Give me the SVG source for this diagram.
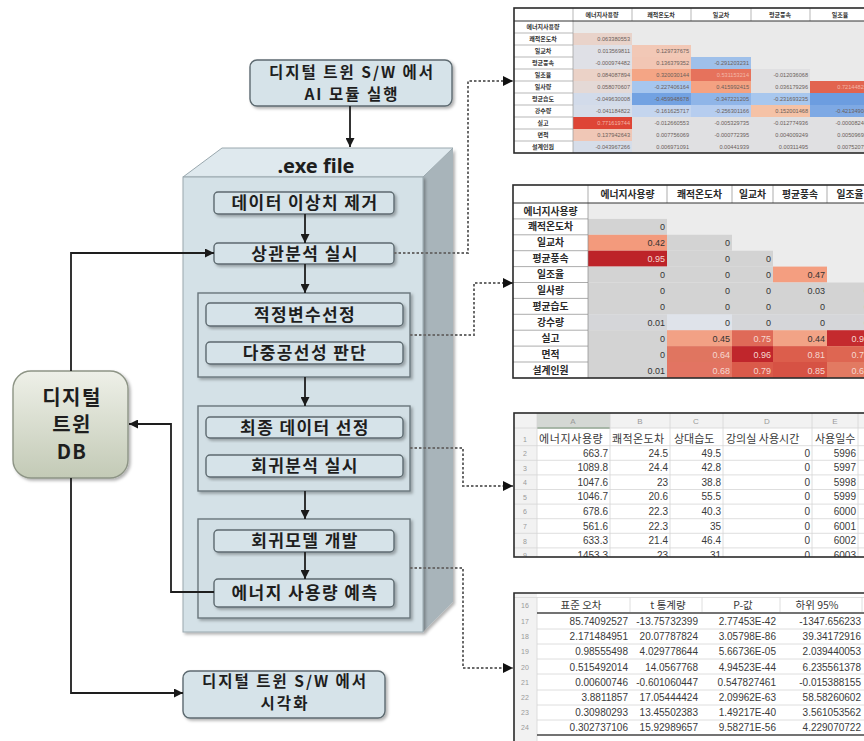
<svg xmlns="http://www.w3.org/2000/svg" width="864" height="741" viewBox="0 0 864 741">
  <defs>
    <style>
      .box { fill: #d6e3e9; stroke: #5d6a70; stroke-width: 1.4; }
      .grp { fill: #d2dfe5; stroke: #6a767c; stroke-width: 1.4; }
      .lbl { font-family: "Noto Sans CJK KR", "Noto Sans", sans-serif; font-weight: 700; font-size: 17px; letter-spacing: 1.4px; fill: #1e1e1e; text-anchor: middle; }
      .lbl2 { font-size: 15.5px; letter-spacing: 2px; }
      .flow { fill: none; stroke: #1e1e1e; stroke-width: 1.8; }
      .dot { fill: none; stroke: #6a6a6a; stroke-width: 2; stroke-dasharray: 2.5 2; }
      .tb { font-family: "Liberation Sans", "Noto Sans CJK KR", sans-serif; fill: #3a3a3a; }
      .t1v { font-size: 5.6px; text-anchor: end; fill: #6b5e5a; }
      .t1h { font-size: 6px; font-weight: 700; text-anchor: middle; fill: #333; }
      .t2h { font-family: "Noto Sans CJK KR", sans-serif; font-size: 9.8px; font-weight: 700; text-anchor: middle; fill: #2a2a2a; }
      .t2v { font-size: 9px; text-anchor: end; fill: #333; }
      .t2w { font-size: 9px; text-anchor: end; fill: #f6d8d0; }
      .t3r { font-size: 10px; text-anchor: end; fill: #3a3a3a; }
      .rn { font-size: 7px; fill: #9a9a9a; text-anchor: middle; }
      .grid { stroke: #d6d6d6; stroke-width: 0.8; }
    </style>
    <marker id="ah" viewBox="0 0 10 10" refX="10" refY="5" markerWidth="9" markerHeight="9" markerUnits="userSpaceOnUse" orient="auto">
      <path d="M0,0 L10,5 L0,10 z" fill="#1a1a1a"/>
    </marker>
    <marker id="ahd" viewBox="0 0 10 10" refX="10" refY="5" markerWidth="10" markerHeight="10" markerUnits="userSpaceOnUse" orient="auto">
      <path d="M0,0 L10,5 L0,10 z" fill="#111"/>
    </marker>
    <linearGradient id="dbFill" x1="0" y1="0" x2="0" y2="1">
      <stop offset="0" stop-color="#eef0e8"/>
      <stop offset="1" stop-color="#c3cab6"/>
    </linearGradient>
    <filter id="sh" x="-10%" y="-10%" width="130%" height="130%">
      <feDropShadow dx="2" dy="2" stdDeviation="1.4" flood-color="#000" flood-opacity="0.3"/>
    </filter>
    <clipPath id="clip3"><rect x="514" y="413" width="360" height="144"/></clipPath>
    <clipPath id="clip4"><rect x="514" y="593" width="360" height="148"/></clipPath>
  </defs>

  <rect width="864" height="741" fill="#ffffff"/>

  <!-- executable package drawn as a 3D block -->
  <g id="exe-block">
    <polygon points="423,177 453,148 453,602 423,632" fill="#a8b4ba" filter="url(#sh)"/>
    <polygon points="183,177 222,148 453,148 423,177" fill="#dfe9ee" stroke="#9aa8ae" stroke-width="1"/>
    <rect x="183" y="177" width="240" height="455" fill="#d4e1e7" stroke="#9aa8ae" stroke-width="1" filter="url(#sh)"/>
    <text x="316" y="173" style="font-family: 'Noto Sans', sans-serif; font-weight: 700; font-size: 20px; fill: #1e1e1e; text-anchor: middle;">.exe file</text>
  </g>

  <g id="node-run-ai">
    <rect class="box" x="250" y="60" width="202" height="46" rx="7" filter="url(#sh)"/>
    <text class="lbl lbl2" x="352" y="77.5">디지털 트윈 S/W 에서</text>
    <text class="lbl lbl2" x="352" y="100">AI 모듈 실행</text>
  </g>

  <g id="node-outlier">
    <rect class="box" x="214" y="192" width="180" height="22" rx="4" filter="url(#sh)"/>
    <text class="lbl" x="305" y="209">데이터 이상치 제거</text>
  </g>
  <g id="node-corr">
    <rect class="box" x="214" y="243" width="180" height="21" rx="4" filter="url(#sh)"/>
    <text class="lbl" x="305" y="259.5">상관분석 실시</text>
  </g>

  <g id="group-variables">
    <rect class="grp" x="198" y="293" width="212" height="84" filter="url(#sh)"/>
    <g id="node-select-var">
      <rect class="box" x="206" y="303" width="197" height="23" rx="4" filter="url(#sh)"/>
      <text class="lbl" x="305" y="320.5">적정변수선정</text>
    </g>
    <g id="node-multicol">
      <rect class="box" x="206" y="342" width="197" height="22" rx="4" filter="url(#sh)"/>
      <text class="lbl" x="305" y="359">다중공선성 판단</text>
    </g>
  </g>

  <g id="group-regression">
    <rect class="grp" x="198" y="406" width="212" height="85" filter="url(#sh)"/>
    <g id="node-final-data">
      <rect class="box" x="206" y="417" width="197" height="21" rx="4" filter="url(#sh)"/>
      <text class="lbl" x="305" y="433.5">최종 데이터 선정</text>
    </g>
    <g id="node-regress">
      <rect class="box" x="206" y="455" width="197" height="22" rx="4" filter="url(#sh)"/>
      <text class="lbl" x="305" y="472">회귀분석 실시</text>
    </g>
  </g>

  <g id="group-model">
    <rect class="grp" x="198" y="519" width="212" height="99" filter="url(#sh)"/>
    <g id="node-model">
      <rect class="box" x="214" y="530" width="180" height="22" rx="4" filter="url(#sh)"/>
      <text class="lbl" x="305" y="547">회귀모델 개발</text>
    </g>
    <g id="node-predict">
      <rect class="box" x="214" y="579" width="180" height="28" rx="4" filter="url(#sh)"/>
      <text class="lbl" x="305" y="598.5">에너지 사용량 예측</text>
    </g>
  </g>

  <g id="node-db">
    <rect x="13" y="371" width="115" height="107" rx="18" fill="url(#dbFill)" stroke="#8d9485" stroke-width="1.4" filter="url(#sh)"/>
    <text class="lbl" x="72" y="405" style="font-size: 20px;">디지털</text>
    <text class="lbl" x="72" y="432" style="font-size: 20px;">트윈</text>
    <text class="lbl" x="72" y="459" style="font-size: 20px;">DB</text>
  </g>

  <g id="node-visualize">
    <rect class="box" x="183" y="671" width="202" height="47" rx="7" filter="url(#sh)"/>
    <text class="lbl lbl2" x="285" y="686.5">디지털 트윈 S/W 에서</text>
    <text class="lbl lbl2" x="285" y="709">시각화</text>
  </g>

  <!-- connectors -->
  <g id="connectors">
    <line class="flow" x1="350" y1="106" x2="350" y2="147" marker-end="url(#ah)"/>
    <line class="flow" x1="305" y1="214" x2="305" y2="243" marker-end="url(#ah)"/>
    <line class="flow" x1="305" y1="264" x2="305" y2="293" marker-end="url(#ah)"/>
    <line class="flow" x1="305" y1="377" x2="305" y2="406" marker-end="url(#ah)"/>
    <line class="flow" x1="305" y1="491" x2="305" y2="519" marker-end="url(#ah)"/>
    <line class="flow" x1="305" y1="552" x2="305" y2="579" marker-end="url(#ah)"/>
    <path class="flow" d="M71,371 V253 H214" marker-end="url(#ah)"/>
    <path class="flow" d="M214,592 H171 V424 H129" marker-end="url(#ah)"/>
    <path class="flow" d="M71,478 V693 H183" marker-end="url(#ah)"/>

    <path class="dot" d="M394,253 H468 V81 H513" marker-end="url(#ahd)"/>
    <path class="dot" d="M410,335 H474 V283 H513" marker-end="url(#ahd)"/>
    <path class="dot" d="M410,448 H463 V486 H513" marker-end="url(#ahd)"/>
    <path class="dot" d="M410,568 H463 V668 H513" marker-end="url(#ahd)"/>
  </g>

  <!-- correlation coefficient table -->
  <g id="table-correlation" class="tb">
    <rect x="514" y="8" width="360" height="145" fill="#ffffff"/>
    <rect x="573" y="21" width="301" height="132" fill="#eaeaea"/>
    <!-- coloured cells -->
    <g>
      <rect x="573" y="33" width="59" height="12" fill="#e9d3ca"/>
      <rect x="573" y="45" width="59" height="12" fill="#dfe0e6"/>
      <rect x="632" y="45" width="59" height="12" fill="#f2c8b6"/>
      <rect x="573" y="57" width="59" height="12" fill="#dfe0e6"/>
      <rect x="632" y="57" width="59" height="12" fill="#f2c6b4"/>
      <rect x="691" y="57" width="60" height="12" fill="#9fc0ea"/>
      <rect x="573" y="69" width="59" height="12" fill="#ebd2c7"/>
      <rect x="632" y="69" width="59" height="12" fill="#f4a585"/>
      <rect x="691" y="69" width="60" height="12" fill="#e6725c"/>
      <rect x="751" y="69" width="59" height="12" fill="#e0e0e2"/>
      <rect x="573" y="81" width="59" height="12" fill="#e4d9d6"/>
      <rect x="632" y="81" width="59" height="12" fill="#a6c6ee"/>
      <rect x="691" y="81" width="60" height="12" fill="#f4a282"/>
      <rect x="751" y="81" width="59" height="12" fill="#e0e0e2"/>
      <rect x="810" y="81" width="64" height="12" fill="#e2644f"/>
      <rect x="573" y="93" width="59" height="12" fill="#d2dbea"/>
      <rect x="632" y="93" width="59" height="12" fill="#72a2e2"/>
      <rect x="691" y="93" width="60" height="12" fill="#8fb5e8"/>
      <rect x="751" y="93" width="59" height="12" fill="#a8c7ee"/>
      <rect x="810" y="93" width="64" height="12" fill="#6c9de0"/>
      <rect x="573" y="105" width="59" height="12" fill="#d6dde9"/>
      <rect x="632" y="105" width="59" height="12" fill="#c4d5ee"/>
      <rect x="691" y="105" width="60" height="12" fill="#b6cdef"/>
      <rect x="751" y="105" width="59" height="12" fill="#f5c2a6"/>
      <rect x="810" y="105" width="64" height="12" fill="#7ea9e4"/>
      <rect x="573" y="117" width="59" height="12" fill="#de4536"/>
      <rect x="632" y="117" width="242" height="12" fill="#e0e0e2"/>
      <rect x="573" y="129" width="59" height="12" fill="#f0c7b6"/>
      <rect x="632" y="129" width="242" height="12" fill="#e0e0e2"/>
      <rect x="573" y="141" width="59" height="12" fill="#d6dde9"/>
      <rect x="632" y="141" width="242" height="12" fill="#e0e0e2"/>
    </g>
    <!-- row separators in the label column, header separators -->
    <g stroke="#9a9a9a" stroke-width="0.7">
      <line x1="514" y1="33" x2="573" y2="33"/><line x1="514" y1="45" x2="573" y2="45"/>
      <line x1="514" y1="57" x2="573" y2="57"/><line x1="514" y1="69" x2="573" y2="69"/>
      <line x1="514" y1="81" x2="573" y2="81"/><line x1="514" y1="93" x2="573" y2="93"/>
      <line x1="514" y1="105" x2="573" y2="105"/><line x1="514" y1="117" x2="573" y2="117"/>
      <line x1="514" y1="129" x2="573" y2="129"/><line x1="514" y1="141" x2="573" y2="141"/>
      <line x1="573" y1="8" x2="573" y2="153"/>
      <line x1="632" y1="8" x2="632" y2="21"/><line x1="691" y1="8" x2="691" y2="21"/>
      <line x1="751" y1="8" x2="751" y2="21"/><line x1="810" y1="8" x2="810" y2="21"/>
    </g>
    <line x1="514" y1="21" x2="874" y2="21" stroke="#333" stroke-width="1"/>
    <rect x="514" y="8" width="360" height="145" fill="none" stroke="#2a2a2a" stroke-width="1.6"/>
    <text class="t1h" x="602" y="16.5">에너지사용량</text>
    <text class="t1h" x="661" y="16.5">쾌적온도차</text>
    <text class="t1h" x="721" y="16.5">일교차</text>
    <text class="t1h" x="780" y="16.5">평균풍속</text>
    <text class="t1h" x="840" y="16.5">일조율</text>
    <text class="t1h" x="543" y="29">에너지사용량</text>
    <text class="t1h" x="543" y="41">쾌적온도차</text>
    <text class="t1h" x="543" y="53">일교차</text>
    <text class="t1h" x="543" y="65">평균풍속</text>
    <text class="t1h" x="543" y="77">일조율</text>
    <text class="t1h" x="543" y="89">일사량</text>
    <text class="t1h" x="543" y="101">평균습도</text>
    <text class="t1h" x="543" y="113">강수량</text>
    <text class="t1h" x="543" y="125">실고</text>
    <text class="t1h" x="543" y="137">면적</text>
    <text class="t1h" x="543" y="149">설계인원</text>
    <g>
      <text class="t1v" x="630" y="41">0.063380553</text>
      <text class="t1v" x="630" y="53">0.013569811</text>
      <text class="t1v" x="689" y="53">0.129737675</text>
      <text class="t1v" x="630" y="65">-0.000974482</text>
      <text class="t1v" x="689" y="65">0.136379352</text>
      <text class="t1v" x="749" y="65">-0.291203231</text>
      <text class="t1v" x="630" y="77">0.084087894</text>
      <text class="t1v" x="689" y="77">0.320030144</text>
      <text class="t1v" x="749" y="77" style="fill:#f3b8a8">0.531153214</text>
      <text class="t1v" x="808" y="77">-0.012036068</text>
      <text class="t1v" x="630" y="89">0.058070607</text>
      <text class="t1v" x="689" y="89">-0.227406164</text>
      <text class="t1v" x="749" y="89">0.415992415</text>
      <text class="t1v" x="808" y="89">0.036179296</text>
      <text class="t1v" x="870" y="89" style="fill:#f3b8a8">0.721448217</text>
      <text class="t1v" x="630" y="101">-0.049630008</text>
      <text class="t1v" x="689" y="101">-0.459948678</text>
      <text class="t1v" x="749" y="101">-0.347221205</text>
      <text class="t1v" x="808" y="101">-0.231693235</text>
      <text class="t1v" x="630" y="113">-0.041184822</text>
      <text class="t1v" x="689" y="113">-0.161625717</text>
      <text class="t1v" x="749" y="113">-0.256301166</text>
      <text class="t1v" x="808" y="113">0.152001468</text>
      <text class="t1v" x="870" y="113">-0.421349084</text>
      <text class="t1v" x="630" y="125" style="fill:#f3b8a8">0.771619744</text>
      <text class="t1v" x="689" y="125">-0.012660553</text>
      <text class="t1v" x="749" y="125">-0.005329735</text>
      <text class="t1v" x="808" y="125">-0.012774936</text>
      <text class="t1v" x="870" y="125">-0.000082467</text>
      <text class="t1v" x="630" y="137">0.137942643</text>
      <text class="t1v" x="689" y="137">0.007756069</text>
      <text class="t1v" x="749" y="137">-0.000772395</text>
      <text class="t1v" x="808" y="137">0.004009249</text>
      <text class="t1v" x="870" y="137">0.005096958</text>
      <text class="t1v" x="630" y="149">-0.043967266</text>
      <text class="t1v" x="689" y="149">0.006971091</text>
      <text class="t1v" x="749" y="149">0.00441939</text>
      <text class="t1v" x="808" y="149">0.00311495</text>
      <text class="t1v" x="870" y="149">0.007520754</text>
    </g>
  </g>

  <!-- p-value heat table -->
  <g id="table-pvalue" class="tb">
    <rect x="513" y="185" width="360" height="193" fill="#ffffff"/>
    <rect x="588" y="203" width="285" height="175" fill="#ececec"/>
    <g>
      <rect x="588" y="218.9" width="79" height="15.9" fill="#d3d3d3"/>
      <rect x="588" y="234.8" width="79" height="15.9" fill="#f39a7c"/>
      <rect x="667" y="234.8" width="65" height="15.9" fill="#d3d3d3"/>
      <rect x="588" y="250.7" width="79" height="15.9" fill="#bd2329"/>
      <rect x="667" y="250.7" width="106" height="15.9" fill="#d3d3d3"/>
      <rect x="588" y="266.6" width="185" height="15.9" fill="#d3d3d3"/>
      <rect x="773" y="266.6" width="54" height="15.9" fill="#f49e80"/>
      <rect x="588" y="282.5" width="285" height="31.8" fill="#d3d3d3"/>
      <rect x="588" y="314.3" width="285" height="15.9" fill="#d5d6d9"/>
      <rect x="667" y="314.3" width="65" height="15.9" fill="#dfe3ea"/>
      <rect x="588" y="330.2" width="79" height="47.7" fill="#d3d3d3"/>
      <rect x="667" y="330.2" width="65" height="15.9" fill="#f2a185"/>
      <rect x="732" y="330.2" width="41" height="15.9" fill="#df6a58"/>
      <rect x="773" y="330.2" width="54" height="15.9" fill="#f2a386"/>
      <rect x="827" y="330.2" width="46" height="15.9" fill="#c42a2e"/>
      <rect x="667" y="346.1" width="65" height="15.9" fill="#e07560"/>
      <rect x="732" y="346.1" width="41" height="15.9" fill="#c0262c"/>
      <rect x="773" y="346.1" width="54" height="15.9" fill="#dc5e4c"/>
      <rect x="827" y="346.1" width="46" height="15.9" fill="#de6652"/>
      <rect x="667" y="362" width="65" height="15.9" fill="#e27462"/>
      <rect x="732" y="362" width="41" height="15.9" fill="#da5a4a"/>
      <rect x="773" y="362" width="54" height="15.9" fill="#d65244"/>
      <rect x="827" y="362" width="46" height="15.9" fill="#e27a62"/>
    </g>
    <g stroke="#8a8a8a" stroke-width="0.7">
      <line x1="513" y1="218.9" x2="588" y2="218.9"/><line x1="513" y1="234.8" x2="588" y2="234.8"/>
      <line x1="513" y1="250.7" x2="588" y2="250.7"/><line x1="513" y1="266.6" x2="588" y2="266.6"/>
      <line x1="513" y1="282.5" x2="588" y2="282.5"/><line x1="513" y1="298.4" x2="588" y2="298.4"/>
      <line x1="513" y1="314.3" x2="588" y2="314.3"/><line x1="513" y1="330.2" x2="588" y2="330.2"/>
      <line x1="513" y1="346.1" x2="588" y2="346.1"/><line x1="513" y1="362" x2="588" y2="362"/>
      <line x1="588" y1="185" x2="588" y2="378"/>
      <line x1="667" y1="185" x2="667" y2="203"/><line x1="732" y1="185" x2="732" y2="203"/>
      <line x1="773" y1="185" x2="773" y2="203"/><line x1="827" y1="185" x2="827" y2="203"/>
    </g>
    <line x1="513" y1="203" x2="873" y2="203" stroke="#333" stroke-width="1"/>
    <rect x="513" y="185" width="360" height="193" fill="none" stroke="#2a2a2a" stroke-width="1.6"/>
    <text class="t2h" x="627.5" y="198">에너지사용량</text>
    <text class="t2h" x="699.5" y="198">쾌적온도차</text>
    <text class="t2h" x="752.5" y="198">일교차</text>
    <text class="t2h" x="800" y="198">평균풍속</text>
    <text class="t2h" x="850" y="198">일조율</text>
    <text class="t2h" x="550.5" y="214.5">에너지사용량</text>
    <text class="t2h" x="550.5" y="230.4">쾌적온도차</text>
    <text class="t2h" x="550.5" y="246.3">일교차</text>
    <text class="t2h" x="550.5" y="262.2">평균풍속</text>
    <text class="t2h" x="550.5" y="278.1">일조율</text>
    <text class="t2h" x="550.5" y="294">일사량</text>
    <text class="t2h" x="550.5" y="309.9">평균습도</text>
    <text class="t2h" x="550.5" y="325.8">강수량</text>
    <text class="t2h" x="550.5" y="341.7">실고</text>
    <text class="t2h" x="550.5" y="357.6">면적</text>
    <text class="t2h" x="550.5" y="373.5">설계인원</text>
    <g>
      <text class="t2v" x="665" y="230">0</text>
      <text class="t2v" x="665" y="246">0.42</text>
      <text class="t2v" x="730" y="246">0</text>
      <text class="t2w" x="665" y="262">0.95</text>
      <text class="t2v" x="730" y="262">0</text>
      <text class="t2v" x="771" y="262">0</text>
      <text class="t2v" x="665" y="278">0</text>
      <text class="t2v" x="730" y="278">0</text>
      <text class="t2v" x="771" y="278">0</text>
      <text class="t2v" x="825" y="278">0.47</text>
      <text class="t2v" x="665" y="294">0</text>
      <text class="t2v" x="730" y="294">0</text>
      <text class="t2v" x="771" y="294">0</text>
      <text class="t2v" x="825" y="294">0.03</text>
      <text class="t2v" x="869" y="294">0</text>
      <text class="t2v" x="665" y="310">0</text>
      <text class="t2v" x="730" y="310">0</text>
      <text class="t2v" x="771" y="310">0</text>
      <text class="t2v" x="825" y="310">0</text>
      <text class="t2v" x="869" y="310">0</text>
      <text class="t2v" x="665" y="326">0.01</text>
      <text class="t2v" x="730" y="326">0</text>
      <text class="t2v" x="771" y="326">0</text>
      <text class="t2v" x="825" y="326">0</text>
      <text class="t2v" x="869" y="326">0</text>
      <text class="t2v" x="665" y="341.5">0</text>
      <text class="t2v" x="730" y="341.5">0.45</text>
      <text class="t2w" x="771" y="341.5">0.75</text>
      <text class="t2v" x="825" y="341.5">0.44</text>
      <text class="t2w" x="869" y="341.5">0.96</text>
      <text class="t2v" x="665" y="357.5">0</text>
      <text class="t2w" x="730" y="357.5">0.64</text>
      <text class="t2w" x="771" y="357.5">0.96</text>
      <text class="t2w" x="825" y="357.5">0.81</text>
      <text class="t2w" x="869" y="357.5">0.78</text>
      <text class="t2v" x="665" y="373.5">0.01</text>
      <text class="t2w" x="730" y="373.5">0.68</text>
      <text class="t2w" x="771" y="373.5">0.79</text>
      <text class="t2w" x="825" y="373.5">0.85</text>
      <text class="t2w" x="869" y="373.5">0.67</text>
    </g>
  </g>

  <!-- selected data sheet -->
  <g id="table-data" class="tb">
    <g clip-path="url(#clip3)">
      <rect x="514" y="413" width="360" height="144" fill="#ffffff"/>
      <rect x="514" y="413" width="360" height="15" fill="#f2f2f2"/>
      <rect x="514" y="413" width="23" height="144" fill="#f2f2f2"/>
      <rect x="537" y="413" width="73" height="15" fill="#d4d8d4"/>
      <line x1="537" y1="428" x2="610" y2="428" stroke="#6a8a6a" stroke-width="1.5"/>
      <g class="grid">
        <line x1="514" y1="428" x2="874" y2="428"/>
        <line x1="514" y1="445.7" x2="874" y2="445.7"/>
        <line x1="514" y1="460.3" x2="874" y2="460.3"/>
        <line x1="514" y1="474.9" x2="874" y2="474.9"/>
        <line x1="514" y1="489.5" x2="874" y2="489.5"/>
        <line x1="514" y1="504.1" x2="874" y2="504.1"/>
        <line x1="514" y1="518.7" x2="874" y2="518.7"/>
        <line x1="514" y1="533.3" x2="874" y2="533.3"/>
        <line x1="514" y1="547.9" x2="874" y2="547.9"/>
        <line x1="537" y1="413" x2="537" y2="557"/>
        <line x1="610" y1="413" x2="610" y2="557"/>
        <line x1="670" y1="413" x2="670" y2="557"/>
        <line x1="723" y1="413" x2="723" y2="557"/>
        <line x1="812" y1="413" x2="812" y2="557"/>
        <line x1="858" y1="413" x2="858" y2="557"/>
      </g>
      <text class="rn" x="573" y="423.5" style="font-size:8px">A</text>
      <text class="rn" x="640" y="423.5" style="font-size:8px">B</text>
      <text class="rn" x="696" y="423.5" style="font-size:8px">C</text>
      <text class="rn" x="767" y="423.5" style="font-size:8px">D</text>
      <text class="rn" x="835" y="423.5" style="font-size:8px">E</text>
      <text class="rn" x="525" y="442">1</text>
      <text class="rn" x="525" y="456">2</text>
      <text class="rn" x="525" y="470.6">3</text>
      <text class="rn" x="525" y="485.2">4</text>
      <text class="rn" x="525" y="499.8">5</text>
      <text class="rn" x="525" y="514.4">6</text>
      <text class="rn" x="525" y="529">7</text>
      <text class="rn" x="525" y="543.6">8</text>
      <text class="rn" x="525" y="558.2">9</text>
      <g style="font-family: 'Noto Sans CJK KR', sans-serif; font-size: 11px; fill: #3a3a3a;">
        <text x="539" y="442.5" letter-spacing="0.6">에너지사용량</text>
        <text x="612" y="442.5" letter-spacing="0.4">쾌적온도차</text>
        <text x="674" y="442.5">상대습도</text>
        <text x="726" y="442.5">강의실 사용시간</text>
        <text x="815" y="442.5">사용일수</text>
      </g>
      <g>
        <text class="t3r" x="608" y="456.5">663.7</text><text class="t3r" x="668" y="456.5">24.5</text><text class="t3r" x="721" y="456.5">49.5</text><text class="t3r" x="810" y="456.5">0</text><text class="t3r" x="856" y="456.5">5996</text>
        <text class="t3r" x="608" y="471.1">1089.8</text><text class="t3r" x="668" y="471.1">24.4</text><text class="t3r" x="721" y="471.1">42.8</text><text class="t3r" x="810" y="471.1">0</text><text class="t3r" x="856" y="471.1">5997</text>
        <text class="t3r" x="608" y="485.7">1047.6</text><text class="t3r" x="668" y="485.7">23</text><text class="t3r" x="721" y="485.7">38.8</text><text class="t3r" x="810" y="485.7">0</text><text class="t3r" x="856" y="485.7">5998</text>
        <text class="t3r" x="608" y="500.3">1046.7</text><text class="t3r" x="668" y="500.3">20.6</text><text class="t3r" x="721" y="500.3">55.5</text><text class="t3r" x="810" y="500.3">0</text><text class="t3r" x="856" y="500.3">5999</text>
        <text class="t3r" x="608" y="514.9">678.6</text><text class="t3r" x="668" y="514.9">22.3</text><text class="t3r" x="721" y="514.9">40.3</text><text class="t3r" x="810" y="514.9">0</text><text class="t3r" x="856" y="514.9">6000</text>
        <text class="t3r" x="608" y="529.5">561.6</text><text class="t3r" x="668" y="529.5">22.3</text><text class="t3r" x="721" y="529.5">35</text><text class="t3r" x="810" y="529.5">0</text><text class="t3r" x="856" y="529.5">6001</text>
        <text class="t3r" x="608" y="544.1">633.3</text><text class="t3r" x="668" y="544.1">21.4</text><text class="t3r" x="721" y="544.1">46.4</text><text class="t3r" x="810" y="544.1">0</text><text class="t3r" x="856" y="544.1">6002</text>
        <text class="t3r" x="608" y="558.7">1453.3</text><text class="t3r" x="668" y="558.7">23</text><text class="t3r" x="721" y="558.7">31</text><text class="t3r" x="810" y="558.7">0</text><text class="t3r" x="856" y="558.7">6003</text>
      </g>
    </g>
    <rect x="514" y="413" width="360" height="144" fill="none" stroke="#2a2a2a" stroke-width="1.6"/>
  </g>

  <!-- regression statistics sheet -->
  <g id="table-regression" class="tb">
    <g clip-path="url(#clip4)">
      <rect x="514" y="593" width="360" height="148" fill="#ffffff"/>
      <rect x="514" y="593" width="23" height="148" fill="#f2f2f2"/>
      <g class="grid">
        <line x1="514" y1="597.5" x2="874" y2="597.5"/>
        <line x1="537" y1="629" x2="874" y2="629"/>
        <line x1="537" y1="644" x2="874" y2="644"/>
        <line x1="537" y1="659" x2="874" y2="659"/>
        <line x1="537" y1="674" x2="874" y2="674"/>
        <line x1="537" y1="690" x2="874" y2="690"/>
        <line x1="537" y1="705" x2="874" y2="705"/>
        <line x1="537" y1="720" x2="874" y2="720"/>
        <line x1="537" y1="597" x2="537" y2="741"/>
        <line x1="630" y1="597" x2="630" y2="612"/>
        <line x1="702" y1="597" x2="702" y2="612"/>
        <line x1="780" y1="597" x2="780" y2="612"/>
        <line x1="862" y1="597" x2="862" y2="612"/>
      </g>
      <line x1="537" y1="613" x2="874" y2="613" stroke="#444" stroke-width="1.4"/>
      <line x1="537" y1="735" x2="874" y2="735" stroke="#444" stroke-width="1.4"/>
      <text class="rn" x="525" y="607.5">16</text>
      <text class="rn" x="525" y="624.2">17</text>
      <text class="rn" x="525" y="639.3">18</text>
      <text class="rn" x="525" y="654.4">19</text>
      <text class="rn" x="525" y="669.5">20</text>
      <text class="rn" x="525" y="684.6">21</text>
      <text class="rn" x="525" y="699.7">22</text>
      <text class="rn" x="525" y="714.8">23</text>
      <text class="rn" x="525" y="729.9">24</text>
      <g style="font-family: 'Noto Sans CJK KR', sans-serif; font-size: 10.5px; fill: #3a3a3a; text-anchor: middle;">
        <text x="581" y="608.5">표준 오차</text>
        <text x="668" y="608.5">t 통계량</text>
        <text x="743" y="608.5">P-값</text>
        <text x="817" y="608.5">하위 95%</text>
      </g>
      <g>
        <text class="t3r" x="628" y="625.2">85.74092527</text><text class="t3r" x="698" y="625.2">-13.75732399</text><text class="t3r" x="776" y="625.2">2.77453E-42</text><text class="t3r" x="861" y="625.2">-1347.656233</text>
        <text class="t3r" x="628" y="640.3">2.171484951</text><text class="t3r" x="698" y="640.3">20.07787824</text><text class="t3r" x="776" y="640.3">3.05798E-86</text><text class="t3r" x="861" y="640.3">39.34172916</text>
        <text class="t3r" x="628" y="655.4">0.98555498</text><text class="t3r" x="698" y="655.4">4.029778644</text><text class="t3r" x="776" y="655.4">5.66736E-05</text><text class="t3r" x="861" y="655.4">2.039440053</text>
        <text class="t3r" x="628" y="670.5">0.515492014</text><text class="t3r" x="698" y="670.5">14.0567768</text><text class="t3r" x="776" y="670.5">4.94523E-44</text><text class="t3r" x="861" y="670.5">6.235561378</text>
        <text class="t3r" x="628" y="685.6">0.00600746</text><text class="t3r" x="698" y="685.6">-0.601060447</text><text class="t3r" x="776" y="685.6">0.547827461</text><text class="t3r" x="861" y="685.6">-0.015388155</text>
        <text class="t3r" x="628" y="700.7">3.8811857</text><text class="t3r" x="698" y="700.7">17.05444424</text><text class="t3r" x="776" y="700.7">2.09962E-63</text><text class="t3r" x="861" y="700.7">58.58260602</text>
        <text class="t3r" x="628" y="715.8">0.30980293</text><text class="t3r" x="698" y="715.8">13.45502383</text><text class="t3r" x="776" y="715.8">1.49217E-40</text><text class="t3r" x="861" y="715.8">3.561053562</text>
        <text class="t3r" x="628" y="730.9">0.302737106</text><text class="t3r" x="698" y="730.9">15.92989657</text><text class="t3r" x="776" y="730.9">9.58271E-56</text><text class="t3r" x="861" y="730.9">4.229070722</text>
      </g>
    </g>
    <path d="M514,741 V593 H874" fill="none" stroke="#2a2a2a" stroke-width="1.6"/>
  </g>
</svg>
